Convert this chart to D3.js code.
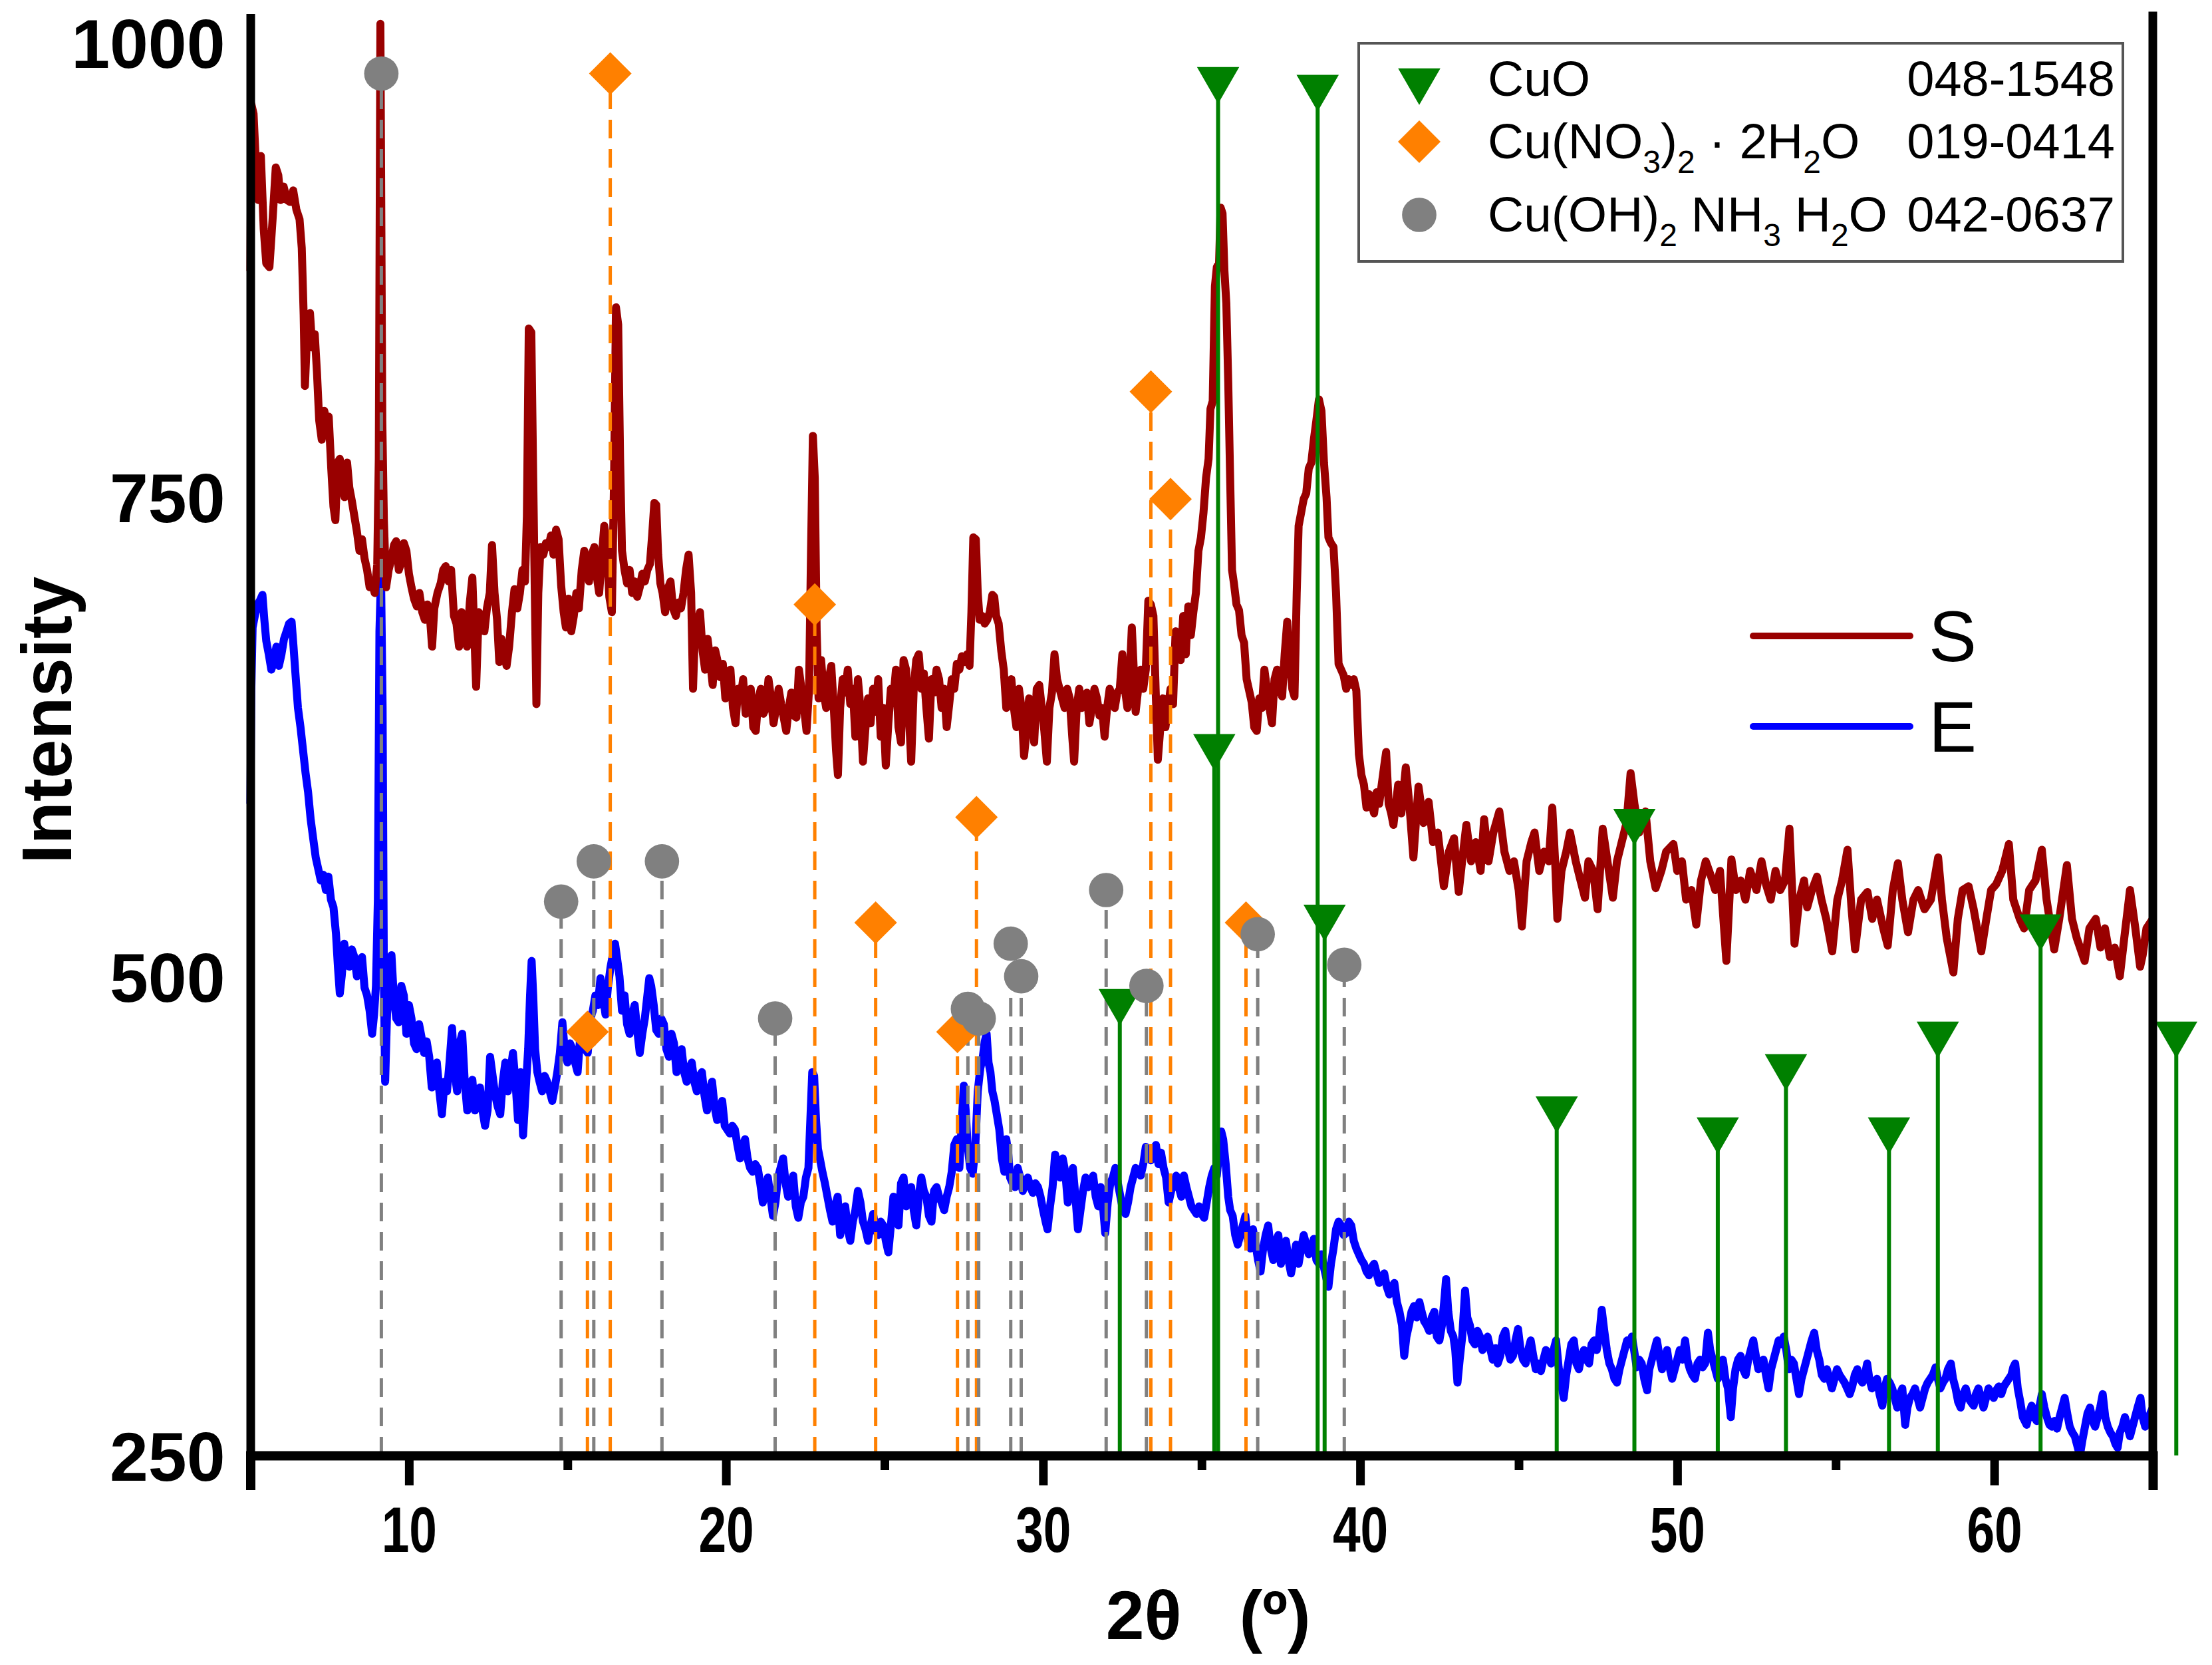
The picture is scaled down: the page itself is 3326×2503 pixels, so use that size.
<!DOCTYPE html>
<html><head><meta charset="utf-8">
<script src="https://cdn.jsdelivr.net/npm/d3@7/dist/d3.min.js"></script>
<style>body{margin:0;background:#fff}</style>
</head><body>
<svg id="c" width="3326" height="2503" xmlns="http://www.w3.org/2000/svg"></svg>
<script>
// ---------- DATA ----------
const xTickValues = [5,10,15,20,25,30,35,40,45,50,55,60,65];
const xTickLabels = [10,20,30,40,50,60];
const yTickValues = [250,500,750,1000];

const seriesNames = ["S","E"];
const phaseNames = ["CuO","Cu(NO3)2 · 2H2O","Cu(OH)2 NH3 H2O"];
const phaseCodes = ["048-1548","019-0414","042-0637"];

// reference peak positions [2θ, marker height]
const cuoPeaks = [[32.42,487],[35.40,620],[35.52,968],[38.66,964],[38.88,531],[46.2,431],[48.65,581],[51.28,420],[53.43,453],[56.68,420],[58.22,470],[61.46,526],[65.74,470]];
const nitratePeaks = [[15.63,471],[16.35,971],[22.8,694],[24.72,528],[27.3,471],[27.9,583],[33.4,805],[34.02,749],[36.4,528]];
const hydroxidePeaks = [[9.13,971],[14.8,539],[15.83,560],[17.98,560],[21.55,478],[27.63,483],[27.97,478],[28.98,517],[29.31,500],[31.99,545],[33.26,495],[36.77,522],[39.5,506]];

// sample S [2θ, intensity]
const sData = [[5.0,868],[5.03,955],[5.1,950],[5.17,925],[5.25,905],[5.33,928],[5.42,890],[5.5,872],[5.6,870],[5.7,895],[5.8,922],[5.88,918],[5.95,905],[6.05,912],[6.15,905],[6.25,904],[6.35,910],[6.45,900],[6.55,895],[6.62,880],[6.68,845],[6.72,808],[6.8,840],[6.88,846],[6.95,828],[7.03,835],[7.1,815],[7.17,790],[7.25,780],[7.33,795],[7.4,790],[7.47,792],[7.55,765],[7.62,745],[7.68,738],[7.75,768],[7.82,770],[7.9,755],[7.97,750],[8.05,768],[8.12,755],[8.2,748],[8.28,740],[8.36,732],[8.44,722],[8.52,728],[8.6,718],[8.68,712],[8.76,703],[8.84,705],[8.92,700],[9.0,715],[9.05,770],[9.1,997],[9.16,790],[9.21,738],[9.28,703],[9.36,712],[9.45,718],[9.53,725],[9.6,727],[9.68,712],[9.76,716],[9.84,726],[9.92,722],[10.0,710],[10.08,703],[10.16,697],[10.25,693],[10.33,700],[10.42,690],[10.5,686],[10.58,694],[10.66,688],[10.73,672],[10.8,692],[10.9,700],[11.0,705],[11.08,712],[11.16,714],[11.25,706],[11.33,712],[11.42,688],[11.5,684],[11.58,672],[11.66,690],[11.75,682],[11.83,672],[11.92,695],[12.0,708],[12.06,680],[12.12,651],[12.2,690],[12.3,688],[12.38,680],[12.46,692],[12.55,700],[12.62,725],[12.7,700],[12.78,686],[12.85,664],[12.92,676],[13.0,668],[13.08,662],[13.16,672],[13.25,690],[13.33,702],[13.42,692],[13.5,700],[13.58,712],[13.66,706],[13.72,740],[13.78,838],[13.86,836],[13.92,760],[13.97,700],[14.02,642],[14.08,700],[14.15,724],[14.24,720],[14.32,726],[14.4,724],[14.48,730],[14.56,720],[14.64,733],[14.72,728],[14.8,704],[14.88,690],[14.95,682],[15.03,697],[15.12,680],[15.2,688],[15.28,700],[15.36,692],[15.45,712],[15.53,722],[15.6,716],[15.68,706],[15.76,720],[15.85,724],[15.93,708],[16.0,700],[16.08,718],[16.16,735],[16.24,726],[16.32,698],[16.4,690],[16.47,760],[16.53,849],[16.6,840],[16.66,770],[16.72,722],[16.8,712],[16.88,705],[16.96,712],[17.04,700],[17.12,706],[17.2,698],[17.28,703],[17.36,710],[17.44,706],[17.52,712],[17.6,715],[17.67,730],[17.74,747],[17.8,746],[17.86,720],[17.93,705],[18.0,700],[18.08,690],[18.16,702],[18.25,706],[18.33,692],[18.42,688],[18.5,695],[18.58,692],[18.66,700],[18.74,712],[18.82,720],[18.9,700],[18.96,650],[19.02,680],[19.1,685],[19.18,690],[19.26,670],[19.34,660],[19.42,676],[19.5,665],[19.58,652],[19.66,670],[19.74,664],[19.82,656],[19.9,663],[19.98,645],[20.06,655],[20.14,660],[20.22,640],[20.3,632],[20.38,650],[20.46,645],[20.54,655],[20.62,637],[20.7,645],[20.78,650],[20.86,630],[20.94,628],[21.02,645],[21.1,650],[21.18,637],[21.26,640],[21.34,655],[21.42,645],[21.5,632],[21.58,640],[21.66,650],[21.74,642],[21.82,635],[21.9,628],[21.98,640],[22.06,648],[22.14,636],[22.22,635],[22.3,660],[22.38,650],[22.46,640],[22.54,628],[22.62,650],[22.68,720],[22.74,782],[22.8,760],[22.86,680],[22.92,645],[23.0,665],[23.08,648],[23.16,640],[23.24,655],[23.32,662],[23.4,640],[23.47,618],[23.53,605],[23.6,640],[23.68,655],[23.76,648],[23.84,660],[23.92,642],[24.0,650],[24.08,625],[24.16,655],[24.24,640],[24.32,612],[24.4,630],[24.48,645],[24.56,632],[24.64,650],[24.72,638],[24.8,655],[24.88,625],[24.96,640],[25.04,610],[25.12,632],[25.2,650],[25.28,645],[25.36,660],[25.44,630],[25.52,622],[25.6,665],[25.68,660],[25.76,640],[25.84,612],[25.92,650],[26.0,665],[26.08,668],[26.16,650],[26.24,658],[26.32,640],[26.4,624],[26.48,655],[26.56,648],[26.64,660],[26.72,655],[26.8,640],[26.88,650],[26.96,630],[27.04,642],[27.12,655],[27.2,650],[27.28,663],[27.36,660],[27.44,667],[27.52,664],[27.6,668],[27.68,662],[27.74,690],[27.8,729],[27.88,728],[27.94,700],[28.0,686],[28.08,688],[28.16,684],[28.24,686],[28.32,690],[28.4,699],[28.46,698],[28.52,688],[28.6,684],[28.68,670],[28.76,660],[28.84,640],[28.92,648],[29.0,655],[29.08,640],[29.16,630],[29.24,650],[29.32,640],[29.4,615],[29.48,628],[29.56,645],[29.64,640],[29.72,622],[29.8,650],[29.88,652],[29.96,640],[30.04,628],[30.12,612],[30.2,640],[30.28,648],[30.36,668],[30.44,655],[30.52,650],[30.6,645],[30.68,640],[30.76,650],[30.84,645],[30.92,625],[30.98,612],[31.06,640],[31.14,650],[31.22,640],[31.3,645],[31.38,648],[31.46,632],[31.54,640],[31.62,650],[31.7,645],[31.78,636],[31.86,640],[31.94,625],[32.02,640],[32.1,650],[32.18,646],[32.26,640],[32.34,648],[32.42,650],[32.5,668],[32.58,650],[32.66,640],[32.74,660],[32.8,682],[32.86,660],[32.92,638],[33.0,650],[33.08,660],[33.16,650],[33.24,660],[33.32,696],[33.4,694],[33.48,688],[33.55,650],[33.62,613],[33.7,630],[33.78,645],[33.86,630],[33.94,640],[34.02,650],[34.1,642],[34.18,680],[34.26,670],[34.34,665],[34.42,688],[34.5,668],[34.58,693],[34.66,678],[34.74,690],[34.82,700],[34.9,722],[34.98,729],[35.06,742],[35.14,760],[35.22,770],[35.28,796],[35.35,800],[35.42,860],[35.48,870],[35.55,872],[35.6,901],[35.66,898],[35.72,868],[35.78,851],[35.84,810],[35.9,760],[35.96,712],[36.02,705],[36.1,694],[36.18,691],[36.26,678],[36.34,674],[36.42,655],[36.5,649],[36.58,643],[36.66,630],[36.74,628],[36.82,645],[36.9,640],[36.98,660],[37.06,650],[37.14,640],[37.22,632],[37.3,655],[37.38,660],[37.46,650],[37.54,646],[37.62,668],[37.7,685],[37.78,665],[37.86,650],[37.93,646],[38.0,700],[38.06,735],[38.14,742],[38.22,749],[38.3,752],[38.38,765],[38.46,768],[38.54,780],[38.62,790],[38.7,801],[38.78,795],[38.86,768],[38.94,750],[39.0,729],[39.08,726],[39.16,724],[39.24,700],[39.32,663],[39.4,660],[39.48,657],[39.56,650],[39.64,655],[39.72,652],[39.8,655],[39.88,649],[39.96,616],[40.04,605],[40.12,600],[40.2,588],[40.28,595],[40.36,590],[40.44,585],[40.52,596],[40.6,590],[40.68,600],[40.76,610],[40.82,617],[40.9,590],[40.98,585],[41.05,579],[41.2,600],[41.3,585],[41.44,609],[41.55,590],[41.68,562],[41.84,599],[42.0,580],[42.16,591],[42.3,570],[42.45,575],[42.64,547],[42.8,565],[42.96,572],[43.05,555],[43.11,544],[43.25,565],[43.35,579],[43.5,560],[43.65,570],[43.8,555],[43.91,582],[44.05,560],[44.2,575],[44.39,586],[44.55,565],[44.71,555],[44.85,560],[45.0,545],[45.1,526],[45.25,560],[45.4,570],[45.5,575],[45.65,555],[45.8,565],[45.95,560],[46.06,588],[46.15,560],[46.22,530],[46.35,555],[46.5,565],[46.62,575],[46.8,560],[46.95,550],[47.09,541],[47.2,560],[47.35,555],[47.49,535],[47.65,577],[47.8,560],[47.97,541],[48.1,560],[48.25,570],[48.4,580],[48.53,606],[48.65,590],[48.8,575],[49.0,586],[49.15,560],[49.32,546],[49.5,555],[49.65,565],[49.88,569],[50.0,555],[50.15,560],[50.28,540],[50.45,545],[50.6,527],[50.75,550],[50.9,560],[51.07,552],[51.2,545],[51.35,555],[51.55,508],[51.71,561],[51.85,545],[52.0,550],[52.15,540],[52.3,555],[52.5,545],[52.66,560],[52.8,548],[52.95,540],[53.1,555],[53.25,545],[53.4,550],[53.54,577],[53.7,517],[53.85,540],[54.0,550],[54.1,536],[54.25,545],[54.41,552],[54.55,540],[54.7,530],[54.89,513],[55.05,540],[55.2,550],[55.37,566],[55.5,535],[55.61,514],[55.8,540],[56.0,544],[56.15,530],[56.3,540],[56.5,525],[56.64,516],[56.8,545],[56.96,559],[57.1,540],[57.28,523],[57.45,540],[57.6,545],[57.8,535],[58.0,540],[58.23,562],[58.35,540],[58.5,520],[58.71,502],[58.85,530],[59.0,545],[59.19,547],[59.35,535],[59.59,513],[59.75,530],[59.9,545],[60.06,548],[60.25,555],[60.46,569],[60.6,540],[60.8,530],[60.94,525],[61.1,545],[61.3,550],[61.5,566],[61.65,540],[61.89,514],[62.05,530],[62.29,558],[62.45,530],[62.6,520],[62.85,508],[63.0,525],[63.2,530],[63.35,515],[63.49,525],[63.65,510],[63.8,515],[63.96,500],[64.1,520],[64.28,545],[64.45,525],[64.6,505],[64.68,511],[64.8,525],[65.0,530]];

// sample E [2θ, intensity]
const eData = [[5.0,590],[5.03,650],[5.07,682],[5.14,688],[5.22,694],[5.3,696],[5.38,699],[5.44,686],[5.5,675],[5.58,668],[5.66,660],[5.74,664],[5.82,672],[5.9,662],[5.98,668],[6.06,676],[6.14,680],[6.22,684],[6.3,685],[6.36,672],[6.42,658],[6.5,640],[6.58,630],[6.66,618],[6.74,606],[6.82,596],[6.9,582],[6.98,572],[7.06,562],[7.14,556],[7.22,550],[7.3,553],[7.38,545],[7.46,552],[7.54,540],[7.62,536],[7.7,522],[7.76,505],[7.82,491],[7.88,500],[7.96,517],[8.04,508],[8.12,505],[8.2,514],[8.28,510],[8.36,500],[8.44,505],[8.52,510],[8.6,494],[8.68,490],[8.76,482],[8.84,470],[8.9,480],[8.96,495],[9.02,540],[9.07,680],[9.12,710],[9.17,640],[9.21,500],[9.25,445],[9.31,480],[9.38,505],[9.45,511],[9.52,490],[9.6,478],[9.68,476],[9.76,495],[9.84,490],[9.92,470],[10.0,485],[10.08,478],[10.16,465],[10.24,462],[10.32,475],[10.4,468],[10.48,460],[10.56,466],[10.64,458],[10.72,442],[10.8,452],[10.88,455],[10.96,440],[11.04,428],[11.12,445],[11.2,440],[11.28,455],[11.36,473],[11.44,450],[11.52,440],[11.6,465],[11.68,470],[11.76,445],[11.84,430],[11.92,440],[12.0,446],[12.08,430],[12.16,436],[12.24,442],[12.32,430],[12.4,422],[12.48,430],[12.56,458],[12.64,448],[12.72,438],[12.8,432],[12.88,428],[12.96,445],[13.04,455],[13.12,440],[13.2,450],[13.28,460],[13.36,445],[13.44,425],[13.52,450],[13.6,417],[13.68,440],[13.76,462],[13.82,490],[13.87,508],[13.92,490],[13.98,462],[14.05,450],[14.12,445],[14.2,440],[14.28,448],[14.36,445],[14.44,440],[14.52,435],[14.6,442],[14.68,450],[14.76,460],[14.84,476],[14.92,460],[15.0,455],[15.08,465],[15.16,462],[15.24,455],[15.32,450],[15.4,468],[15.48,470],[15.56,462],[15.64,460],[15.72,478],[15.8,482],[15.88,490],[15.96,485],[16.04,499],[16.12,490],[16.2,480],[16.28,495],[16.36,505],[16.44,512],[16.5,517],[16.56,510],[16.64,500],[16.72,482],[16.8,490],[16.88,475],[16.96,470],[17.04,480],[17.12,485],[17.2,472],[17.28,460],[17.36,470],[17.44,478],[17.52,490],[17.58,499],[17.64,495],[17.72,485],[17.8,472],[17.88,470],[17.96,478],[18.04,475],[18.12,462],[18.2,458],[18.28,470],[18.36,465],[18.44,450],[18.52,455],[18.6,462],[18.68,450],[18.76,445],[18.84,452],[18.92,455],[19.0,445],[19.08,440],[19.16,448],[19.24,450],[19.32,438],[19.4,430],[19.48,440],[19.56,445],[19.64,432],[19.72,425],[19.8,430],[19.88,435],[19.96,422],[20.04,420],[20.12,418],[20.2,422],[20.28,420],[20.36,412],[20.44,405],[20.52,410],[20.6,415],[20.68,405],[20.76,400],[20.84,398],[20.92,402],[21.0,400],[21.08,392],[21.16,382],[21.24,388],[21.32,395],[21.4,385],[21.48,375],[21.56,382],[21.64,395],[21.72,400],[21.8,405],[21.88,392],[21.96,385],[22.04,390],[22.12,396],[22.2,380],[22.28,374],[22.36,382],[22.44,385],[22.52,395],[22.6,400],[22.66,425],[22.72,450],[22.78,448],[22.84,425],[22.9,410],[22.96,405],[23.04,398],[23.12,392],[23.2,385],[23.28,378],[23.36,372],[23.44,380],[23.52,385],[23.6,365],[23.68,372],[23.76,380],[23.84,368],[23.92,362],[24.0,372],[24.08,378],[24.16,388],[24.24,382],[24.32,372],[24.4,368],[24.48,362],[24.56,370],[24.64,376],[24.72,368],[24.8,365],[24.88,372],[24.96,370],[25.04,362],[25.12,356],[25.2,370],[25.28,385],[25.36,375],[25.44,370],[25.52,392],[25.6,395],[25.68,380],[25.76,385],[25.84,390],[25.92,378],[26.0,370],[26.08,385],[26.16,395],[26.24,388],[26.32,385],[26.4,375],[26.48,372],[26.56,388],[26.64,390],[26.72,385],[26.8,382],[26.88,378],[26.96,385],[27.04,390],[27.12,398],[27.2,412],[27.28,415],[27.36,400],[27.44,425],[27.5,443],[27.56,430],[27.62,412],[27.7,400],[27.78,397],[27.86,410],[27.94,440],[28.02,452],[28.1,458],[28.16,466],[28.22,470],[28.28,455],[28.34,450],[28.4,440],[28.47,435],[28.54,428],[28.62,420],[28.7,405],[28.78,398],[28.84,415],[28.9,408],[28.96,395],[29.04,392],[29.12,390],[29.2,400],[29.28,395],[29.36,388],[29.44,392],[29.52,395],[29.6,390],[29.68,387],[29.76,392],[29.84,390],[29.92,385],[30.0,378],[30.08,372],[30.14,368],[30.22,380],[30.3,390],[30.38,407],[30.46,400],[30.54,395],[30.62,405],[30.7,398],[30.78,382],[30.86,392],[30.94,400],[31.02,385],[31.1,368],[31.18,378],[31.26,388],[31.34,395],[31.42,390],[31.5,392],[31.58,396],[31.66,385],[31.74,380],[31.82,390],[31.9,378],[31.96,366],[32.04,382],[32.12,392],[32.2,395],[32.28,400],[32.36,392],[32.44,385],[32.52,378],[32.6,376],[32.68,382],[32.76,390],[32.84,395],[32.92,400],[33.0,398],[33.08,396],[33.16,402],[33.24,411],[33.32,406],[33.4,404],[33.48,410],[33.56,412],[33.64,402],[33.72,408],[33.8,400],[33.88,395],[33.96,382],[34.04,388],[34.12,392],[34.2,396],[34.28,390],[34.36,385],[34.44,396],[34.52,390],[34.6,385],[34.68,380],[34.76,378],[34.84,376],[34.92,380],[35.0,376],[35.08,374],[35.16,382],[35.24,390],[35.32,396],[35.4,400],[35.48,396],[35.56,410],[35.62,419],[35.68,415],[35.76,402],[35.84,385],[35.9,378],[35.98,375],[36.06,365],[36.14,360],[36.22,365],[36.3,370],[36.38,375],[36.46,362],[36.54,358],[36.62,368],[36.7,360],[36.78,352],[36.86,346],[36.94,358],[37.02,365],[37.1,370],[37.18,358],[37.26,352],[37.34,362],[37.42,365],[37.5,350],[37.58,355],[37.66,362],[37.74,352],[37.82,345],[37.9,352],[37.98,360],[38.06,350],[38.14,358],[38.22,365],[38.3,360],[38.38,355],[38.46,358],[38.54,363],[38.62,352],[38.7,350],[38.78,355],[38.86,348],[38.94,342],[39.0,338],[39.08,350],[39.16,358],[39.24,368],[39.32,372],[39.4,370],[39.48,365],[39.56,366],[39.64,372],[39.72,370],[39.8,362],[39.88,358],[39.96,355],[40.04,352],[40.12,350],[40.2,346],[40.28,344],[40.36,348],[40.44,350],[40.52,345],[40.6,340],[40.68,342],[40.76,345],[40.84,338],[40.92,334],[41.0,338],[41.08,340],[41.16,330],[41.24,325],[41.32,318],[41.39,302],[41.46,312],[41.54,318],[41.62,325],[41.7,328],[41.78,322],[41.87,330],[41.94,325],[42.02,320],[42.1,318],[42.18,315],[42.26,322],[42.34,325],[42.42,312],[42.5,310],[42.58,318],[42.65,330],[42.71,342],[42.78,325],[42.86,315],[42.94,312],[43.0,305],[43.07,288],[43.14,300],[43.22,312],[43.31,336],[43.38,322],[43.46,318],[43.54,310],[43.62,308],[43.7,315],[43.78,312],[43.86,305],[43.94,308],[44.02,312],[44.1,306],[44.18,300],[44.27,306],[44.34,298],[44.42,302],[44.5,312],[44.58,315],[44.66,305],[44.74,300],[44.82,302],[44.9,310],[44.98,316],[45.06,305],[45.14,300],[45.22,298],[45.3,305],[45.38,310],[45.46,302],[45.54,295],[45.62,298],[45.7,294],[45.78,300],[45.86,305],[45.94,302],[46.02,298],[46.1,305],[46.18,310],[46.26,296],[46.34,288],[46.42,280],[46.5,292],[46.58,300],[46.66,308],[46.74,310],[46.82,298],[46.9,295],[46.98,302],[47.06,305],[47.14,300],[47.22,298],[47.3,308],[47.38,310],[47.46,305],[47.54,312],[47.62,326],[47.7,315],[47.78,305],[47.86,298],[47.94,295],[48.02,290],[48.1,288],[48.18,295],[48.26,300],[48.34,305],[48.42,310],[48.5,308],[48.57,312],[48.64,305],[48.72,296],[48.8,300],[48.88,298],[48.96,290],[49.05,284],[49.12,295],[49.2,300],[49.28,305],[49.36,310],[49.44,302],[49.52,295],[49.6,300],[49.68,305],[49.76,296],[49.84,290],[49.92,295],[50.0,300],[50.08,305],[50.16,300],[50.25,310],[50.32,300],[50.4,295],[50.48,292],[50.56,290],[50.64,298],[50.72,300],[50.8,296],[50.88,298],[50.97,314],[51.04,305],[51.12,300],[51.2,295],[51.28,290],[51.36,298],[51.44,300],[51.52,290],[51.6,285],[51.69,270],[51.76,285],[51.84,295],[51.92,300],[52.0,302],[52.08,295],[52.16,292],[52.24,300],[52.32,305],[52.4,310],[52.48,302],[52.56,295],[52.64,298],[52.72,300],[52.8,292],[52.88,285],[52.96,295],[53.04,300],[53.12,305],[53.2,310],[53.28,308],[53.36,312],[53.44,305],[53.52,295],[53.6,300],[53.68,298],[53.76,290],[53.84,282],[53.92,290],[54.0,295],[54.08,300],[54.16,305],[54.24,310],[54.32,314],[54.4,305],[54.48,300],[54.56,292],[54.64,290],[54.72,295],[54.8,290],[54.88,285],[54.96,290],[55.04,295],[55.12,292],[55.2,290],[55.28,288],[55.36,285],[55.44,282],[55.52,286],[55.6,292],[55.68,295],[55.76,290],[55.84,288],[55.92,292],[55.99,298],[56.06,290],[56.14,285],[56.22,288],[56.3,290],[56.38,282],[56.47,276],[56.54,285],[56.62,290],[56.7,288],[56.78,285],[56.86,280],[56.94,275],[57.02,282],[57.1,285],[57.19,266],[57.26,275],[57.34,280],[57.42,282],[57.5,285],[57.58,280],[57.66,275],[57.74,280],[57.82,285],[57.9,288],[57.98,290],[58.06,292],[58.15,296],[58.22,290],[58.3,285],[58.38,288],[58.46,290],[58.54,295],[58.63,298],[58.7,290],[58.78,285],[58.86,278],[58.94,275],[59.02,282],[59.1,285],[59.18,280],[59.26,278],[59.35,276],[59.42,282],[59.5,285],[59.58,280],[59.66,275],[59.74,280],[59.82,285],[59.9,282],[59.98,280],[60.06,284],[60.14,286],[60.22,282],[60.3,286],[60.38,288],[60.46,290],[60.54,292],[60.6,296],[60.66,298],[60.74,285],[60.82,278],[60.9,270],[60.96,268],[61.02,266],[61.1,272],[61.18,276],[61.26,270],[61.34,268],[61.42,275],[61.5,282],[61.58,275],[61.66,270],[61.74,266],[61.82,265],[61.9,268],[61.98,264],[62.06,270],[62.14,275],[62.22,280],[62.3,272],[62.38,265],[62.46,262],[62.54,260],[62.62,255],[62.7,250],[62.78,258],[62.86,265],[62.94,272],[63.02,275],[63.1,268],[63.18,265],[63.26,270],[63.34,275],[63.42,282],[63.5,270],[63.58,265],[63.66,262],[63.74,260],[63.82,256],[63.89,254],[63.96,262],[64.04,265],[64.12,270],[64.2,265],[64.28,260],[64.36,265],[64.44,270],[64.52,275],[64.61,280],[64.68,270],[64.76,265],[64.84,268],[64.92,272],[65.0,275]];

// ---------- DRAW ----------
const FONT = "'Liberation Sans', Arial, Helvetica, sans-serif";
const svg = d3.select("#c").style("font-family", FONT);
const x = d3.scaleLinear().domain([5,65]).range([376.5,3237]);
const y = d3.scaleLinear().domain([250,1000]).range([2188,27]);

const colS = "#990000", colE = "#0000ff";
const colCuO = "#008000", colNit = "#ff8000", colHyd = "#808080";

const line = d3.line().x(d => x(d[0])).y(d => y(d[1]));

svg.append("path").datum(eData).attr("d", line)
  .attr("fill","none").attr("stroke",colE).attr("stroke-width",12).attr("stroke-linejoin","round");
svg.append("path").datum(sData).attr("d", line)
  .attr("fill","none").attr("stroke",colS).attr("stroke-width",12).attr("stroke-linejoin","round");

// reference lines
function refLines(data, color, dashed){
  svg.append("g").selectAll("line").data(data).join("line")
    .attr("x1", d => x(d[0])).attr("x2", d => x(d[0]))
    .attr("y1", y(250)).attr("y2", d => y(d[1]))
    .attr("stroke", color).attr("stroke-width", dashed ? 5 : 6)
    .attr("stroke-dasharray", dashed ? "28,16" : null);
}
refLines(cuoPeaks, colCuO, false);
refLines(nitratePeaks, colNit, true);
refLines(hydroxidePeaks, colHyd, true);

const triPath = d3.symbol().type(d3.symbolTriangle).size(1750)();
const diaPath = d3.symbol().type(d3.symbolSquare).size(2050)();
const cirPath = d3.symbol().type(d3.symbolCircle).size(2100)();

function markers(data, path, color, rot){
  svg.append("g").selectAll("path").data(data).join("path")
    .attr("d", path).attr("fill", color)
    .attr("transform", d => `translate(${x(d[0])},${y(d[1])}) rotate(${rot})`);
}
markers(cuoPeaks, triPath, colCuO, 180);
markers(nitratePeaks, diaPath, colNit, 45);
markers(hydroxidePeaks, cirPath, colHyd, 0);

// axes
const gx = svg.append("g").attr("transform", `translate(0,${y(250)})`)
  .call(d3.axisBottom(x).tickValues(xTickValues).tickSizeOuter(0).tickSize(45)
        .tickFormat(d => xTickLabels.includes(d) ? d : ""));
gx.select(".domain").attr("stroke","#000").attr("stroke-width",14).attr("stroke-linecap","square");
gx.selectAll(".tick line").attr("stroke","#000").attr("stroke-width",13)
  .attr("y2", d => xTickLabels.includes(d) ? 45 : 22);
gx.selectAll(".tick text").attr("y",145).attr("dy",null)
  .attr("font-size",96).attr("font-weight","bold").attr("fill","#000")
  .attr("font-family",FONT).attr("transform","scale(0.78,1)");

const gy = svg.append("g").attr("transform", `translate(${x(5)},0)`)
  .call(d3.axisLeft(y).tickValues(yTickValues).tickFormat(d3.format("d"))
        .tickSize(0).tickSizeOuter(0).tickPadding(38));
gy.select(".domain").attr("stroke","#000").attr("stroke-width",13).attr("stroke-linecap","square");
gy.selectAll(".tick text").attr("font-size",104).attr("font-weight","bold").attr("fill","#000")
  .attr("font-family",FONT).attr("dy", d => d === 1000 ? "0.72em" : "0.36em");

// right axis line
svg.append("line").attr("x1", x(65)).attr("x2", x(65)).attr("y1", y(250)).attr("y2", y(1000) - 3)
  .attr("stroke","#000").attr("stroke-width",13).attr("stroke-linecap","square");

// axis titles
svg.append("text").attr("transform", `translate(107,${(y(250)+y(1000))/2 - 25}) rotate(-90)`)
  .attr("text-anchor","middle").attr("font-size",105).attr("font-weight","bold").text("Intensity");
svg.append("text").attr("x", (x(5)+x(65))/2 + 10).attr("y", 2464)
  .attr("text-anchor","middle").attr("font-size",104).attr("font-weight","bold")
  .attr("xml:space","preserve").style("white-space","pre").text("2θ   (º)");

// phase legend
const lg = svg.append("g");
lg.append("rect").attr("x",2043).attr("y",65).attr("width",1149).attr("height",328)
  .attr("fill","#fff").attr("stroke","#555").attr("stroke-width",4);
const legRows = [
  {path: triPath, color: colCuO, rot: 180, my: 121, by: 144,
   parts: [["CuO",0]]},
  {path: diaPath, color: colNit, rot: 45, my: 213, by: 238,
   parts: [["Cu(NO",0],["3",1],[")",0],["2",1],[" · 2H",0],["2",1],["O",0]]},
  {path: cirPath, color: colHyd, rot: 0, my: 323, by: 348,
   parts: [["Cu(OH)",0],["2",1],[" NH",0],["3",1],[" H",0],["2",1],["O",0]]}
];
legRows.forEach((r, i) => {
  lg.append("path").attr("d", r.path).attr("fill", r.color)
    .attr("transform", `translate(2134,${r.my}) rotate(${r.rot})`);
  const t = lg.append("text").attr("x",2237).attr("y",r.by).attr("font-size",75)
    .style("white-space","pre").attr("fill","#000");
  let sub = false;
  r.parts.forEach(p => {
    const ts = t.append("tspan").text(p[0]);
    if (p[1] && !sub) { ts.attr("dy",22).attr("font-size",48); sub = true; }
    else if (p[1] && sub) { ts.attr("font-size",48); }
    else if (!p[1] && sub) { ts.attr("dy",-22); sub = false; }
  });
  lg.append("text").attr("x",3180).attr("y",r.by).attr("font-size",74)
    .attr("text-anchor","end").attr("fill","#000").text(phaseCodes[i]);
});

// series legend
const sl = svg.append("g");
[[colS, 956], [colE, 1092]].forEach((c, i) => {
  sl.append("line").attr("x1",2636).attr("x2",2872).attr("y1",c[1]).attr("y2",c[1])
    .attr("stroke",c[0]).attr("stroke-width",10).attr("stroke-linecap","round");
  sl.append("text").attr("x",2900).attr("y",c[1]+38).attr("font-size",108)
    .attr("fill","#000").text(seriesNames[i]);
});
</script>
</body></html>
